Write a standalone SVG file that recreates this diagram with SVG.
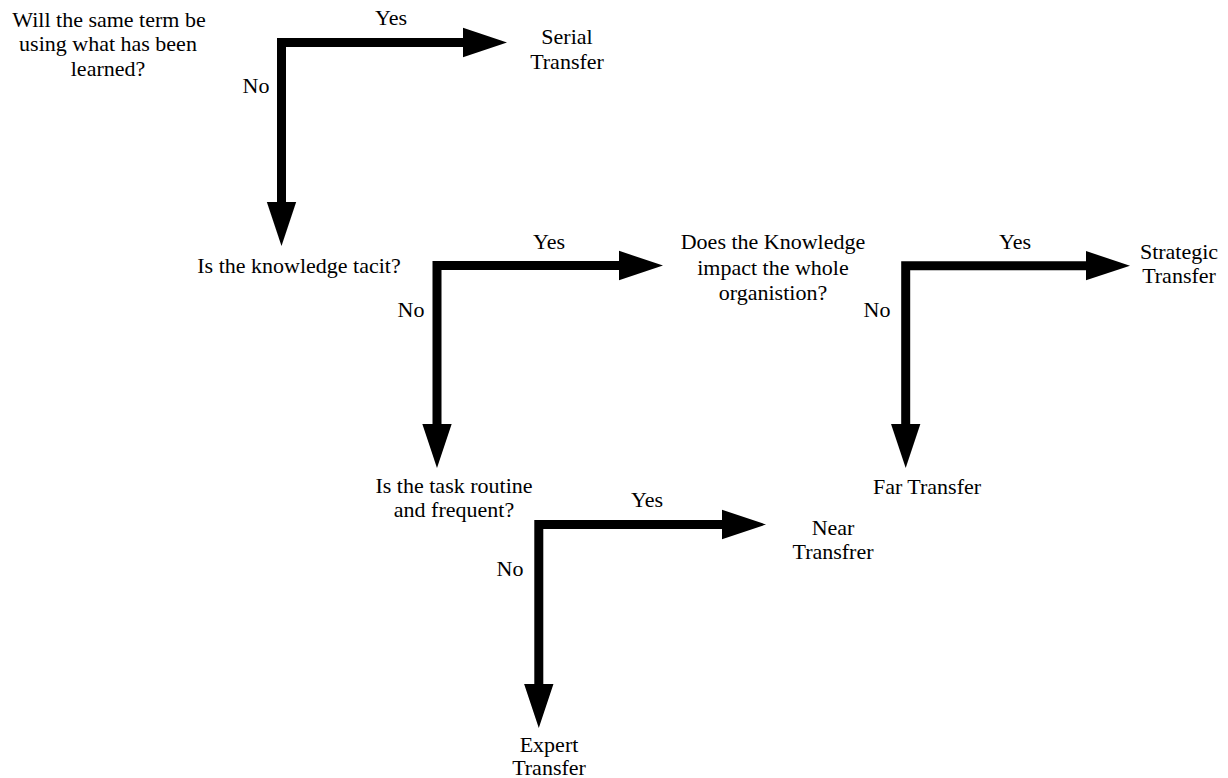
<svg xmlns="http://www.w3.org/2000/svg" width="1228" height="778" viewBox="0 0 1228 778">
<style>
text{font-size:22px;fill:#000;text-anchor:middle}
.arrow{fill:none;stroke:#000;stroke-width:9;stroke-linejoin:miter}
</style>
<defs>
<marker id="head" markerUnits="userSpaceOnUse" markerWidth="44" markerHeight="32" viewBox="0 -15 42 30" refX="0" refY="0" orient="auto-start-reverse">
<path d="M0,-14 L42,0 L0,14 Z" fill="#000"/>
</marker>
</defs>
<rect width="1228" height="778" fill="#fff"/>
<g id="connectors">
<path class="arrow" d="M463,42.5 H281.5 V202" marker-start="url(#head)" marker-end="url(#head)"/>
<path class="arrow" d="M619,265.5 H437 V424" marker-start="url(#head)" marker-end="url(#head)"/>
<path class="arrow" d="M1086,265.7 H905.7 V424" marker-start="url(#head)" marker-end="url(#head)"/>
<path class="arrow" d="M722,524.5 H538.8 V684" marker-start="url(#head)" marker-end="url(#head)"/>
</g>
<g font-family="'Liberation Serif', 'Times New Roman', 'DejaVu Serif', serif">
<g id="labels">
<text x="391" y="25">Yes</text>
<text x="256" y="93">No</text>
<text x="549" y="249">Yes</text>
<text x="411" y="317">No</text>
<text x="1015" y="249">Yes</text>
<text x="877" y="317">No</text>
<text x="647" y="507">Yes</text>
<text x="510" y="576">No</text>
</g>
<g id="q1"><text x="109" y="27">Will the same term be</text><text x="108" y="51">using what has been</text><text x="108" y="76">learned?</text></g>
<g id="serial"><text x="567" y="44">Serial</text><text x="567" y="69">Transfer</text></g>
<g id="q2"><text x="299" y="273">Is the knowledge tacit?</text></g>
<g id="q3"><text x="773" y="249">Does the Knowledge</text><text x="773" y="275">impact the whole</text><text x="773" y="300">organistion?</text></g>
<g id="strategic"><text x="1179" y="259">Strategic</text><text x="1179" y="283">Transfer</text></g>
<g id="far"><text x="927" y="494">Far Transfer</text></g>
<g id="q4"><text x="454" y="493">Is the task routine</text><text x="454" y="517">and frequent?</text></g>
<g id="near"><text x="833" y="535">Near</text><text x="833" y="559">Transfrer</text></g>
<g id="expert"><text x="549" y="752">Expert</text><text x="549" y="775">Transfer</text></g>
</g>
</svg>
